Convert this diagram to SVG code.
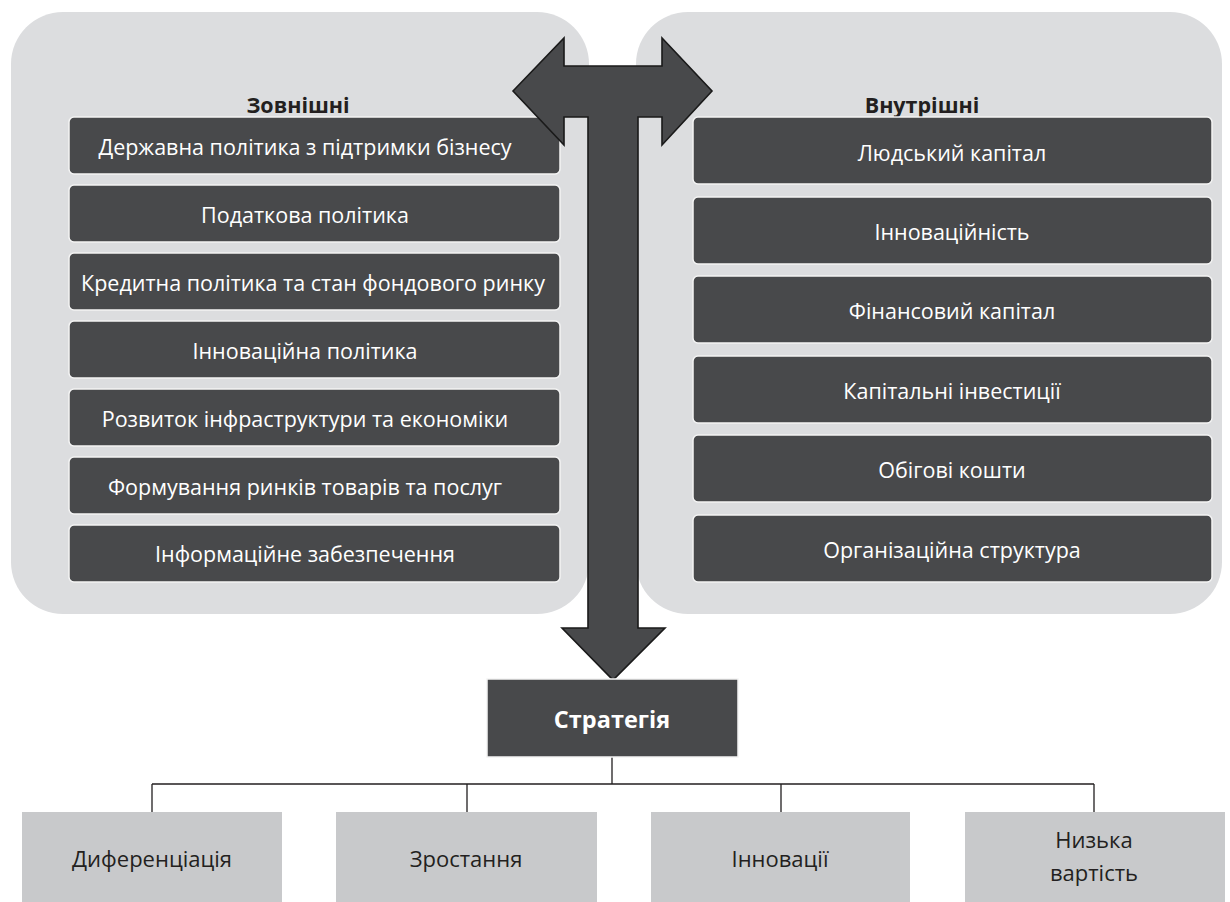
<svg xmlns="http://www.w3.org/2000/svg" width="1230" height="902" viewBox="0 0 1230 902">
<style>
.panel{fill:#dcdddf}
.dk rect{fill:#48494b;stroke:#f4f4f4;stroke-width:1.5}
.dk text{fill:#ffffff;font-family:"Open Sans","Noto Sans",sans-serif;font-size:21.5px;text-anchor:middle;dominant-baseline:central}
.dk text.strong{font-size:23.5px;font-weight:bold}
.lt rect{fill:#c8c9cb}
.lt text{fill:#231f20;font-family:"Open Sans","Noto Sans",sans-serif;font-size:22px;text-anchor:middle;dominant-baseline:central}
.title{fill:#231f20;font-family:"Open Sans","Noto Sans",sans-serif;font-size:21.5px;font-weight:bold;text-anchor:middle;dominant-baseline:central}
.conn{fill:none;stroke:#231f20;stroke-width:1.3}
</style>
<rect width="1230" height="902" fill="#ffffff"/>
<g id="panel-left"><rect class="panel" x="11" y="12" width="578" height="602" rx="52"/><text class="title" x="298" y="104">Зовнішні</text></g>
<g id="panel-right"><rect class="panel" x="636" y="12" width="586" height="602" rx="52"/><text class="title" x="922" y="104">Внутрішні</text></g>

<g id="ext-1" class="dk"><rect x="69" y="117" width="491" height="57" rx="5"/><text x="305" y="146">Державна політика з підтримки бізнесу</text></g>
<g id="ext-2" class="dk"><rect x="69" y="185" width="491" height="57" rx="5"/><text x="305" y="214">Податкова політика</text></g>
<g id="ext-3" class="dk"><rect x="69" y="253" width="491" height="57" rx="5"/><text x="313" y="282">Кредитна політика та стан фондового ринку</text></g>
<g id="ext-4" class="dk"><rect x="69" y="321" width="491" height="57" rx="5"/><text x="305" y="350">Інноваційна політика</text></g>
<g id="ext-5" class="dk"><rect x="69" y="389" width="491" height="57" rx="5"/><text x="305" y="418">Розвиток інфраструктури та економіки</text></g>
<g id="ext-6" class="dk"><rect x="69" y="457" width="491" height="57" rx="5"/><text x="305" y="486">Формування ринків товарів та послуг</text></g>
<g id="ext-7" class="dk"><rect x="69" y="525" width="491" height="57" rx="5"/><text x="305" y="553">Інформаційне забезпечення</text></g>

<g id="int-1" class="dk"><rect x="693" y="117" width="519" height="67" rx="5"/><text x="952" y="152">Людський капітал</text></g>
<g id="int-2" class="dk"><rect x="693" y="197" width="519" height="67" rx="5"/><text x="952" y="231">Інноваційність</text></g>
<g id="int-3" class="dk"><rect x="693" y="276" width="519" height="67" rx="5"/><text x="952" y="310">Фінансовий капітал</text></g>
<g id="int-4" class="dk"><rect x="693" y="356" width="519" height="67" rx="5"/><text x="952" y="390">Капітальні інвестиції</text></g>
<g id="int-5" class="dk"><rect x="693" y="435" width="519" height="67" rx="5"/><text x="952" y="469">Обігові кошти</text></g>
<g id="int-6" class="dk"><rect x="693" y="515" width="519" height="67" rx="5"/><text x="952" y="549">Організаційна структура</text></g>

<g id="connectors">
<polygon points="513,91 564,38 564,66 662,66 662,38 712,91 662,145 662,117 638,117 638,628 665,628 613,680 562,628 588,628 588,117 564,117 564,145" fill="#48494b" stroke="#1a1a1a" stroke-width="1.6" stroke-linejoin="miter"/>
<path class="conn" d="M612,757 V784 M152,784 H1094 M152,784 V812 M467,784 V812 M781,784 V812 M1094,784 V812"/>
</g>

<g id="strategy" class="dk"><rect x="487" y="679" width="251" height="78" rx="0"/><text class="strong" x="612" y="719">Стратегія</text></g>

<g id="s-1" class="lt"><rect x="22" y="812" width="260" height="90"/><text x="152" y="858">Диференціація</text></g>
<g id="s-2" class="lt"><rect x="336" y="812" width="261" height="90"/><text x="466" y="858">Зростання</text></g>
<g id="s-3" class="lt"><rect x="651" y="812" width="259" height="90"/><text x="780" y="858">Інновації</text></g>
<g id="s-4" class="lt"><rect x="965" y="812" width="260" height="90"/><text x="1094" y="839">Низька</text><text x="1094" y="872">вартість</text></g>
</svg>
